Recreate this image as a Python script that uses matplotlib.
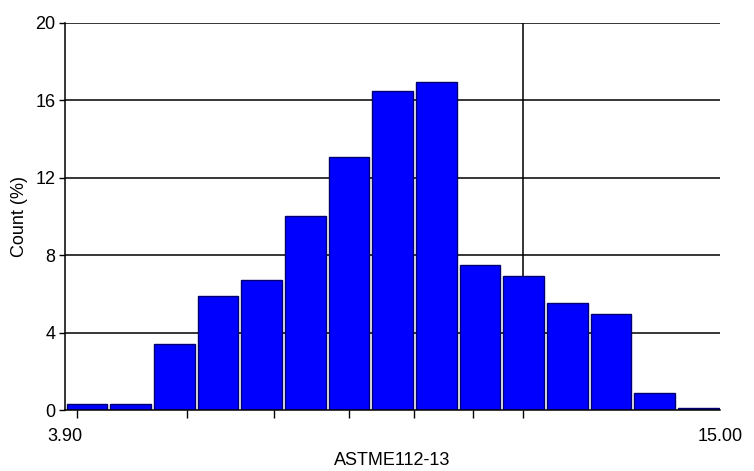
import numpy as np
import matplotlib.pyplot as plt

plt.rcParams["font.family"] = ["Liberation Sans", "DejaVu Sans"]

# istogramma ASTM E112-13
x_min = 3.90
x_max = 15.00
n_bin = 15
conteggi = [0.3, 0.3, 3.4, 5.9, 6.7, 10.0, 13.1, 16.5, 16.95, 7.5, 6.9, 5.55, 4.95, 0.9, 0.1]
tick_minori = [4.10, 5.97, 7.44, 8.71, 9.81, 10.81, 11.66]
y_ticks = [0, 4, 8, 12, 16, 20]

larghezza = (x_max - x_min) / n_bin
centri = x_min + larghezza * (np.arange(n_bin) + 0.5)

fig = plt.figure(figsize=(7.54, 4.71), dpi=100)
ax = fig.add_axes([0.0862, 0.1295, 0.869, 0.8217])

# griglia
for y in y_ticks[1:]:
    ax.axhline(y, color="black", lw=1.1, zorder=1)
ax.axvline(tick_minori[-1], color="black", lw=1.1, zorder=1)

ax.bar(centri, conteggi, width=larghezza * 0.93, color="#0000ff",
       edgecolor="#000070", linewidth=1.0, zorder=2)

ax.set_xlim(x_min, x_max)
ax.set_ylim(0, 20)

for s in ["top", "right"]:
    ax.spines[s].set_visible(False)
ax.spines["left"].set_linewidth(1.1)
ax.spines["bottom"].set_linewidth(1.1)
ax.spines["bottom"].set_zorder(3)

ax.set_yticks(y_ticks)
ax.tick_params(axis="y", length=4, width=1, pad=3, labelsize=13)

ax.set_xticks([x_min, x_max])
ax.set_xticklabels(["3.90", "15.00"])
ax.set_xticks(tick_minori, minor=True)
ax.tick_params(axis="x", which="major", length=0, pad=13, labelsize=13)
ax.tick_params(axis="x", which="minor", length=6, width=1, direction="out")

ax.set_xlabel("ASTME112-13", fontsize=13, labelpad=5)
ax.set_ylabel("Count (%)", fontsize=13, labelpad=5)

fig.savefig("out.png", dpi=100)
